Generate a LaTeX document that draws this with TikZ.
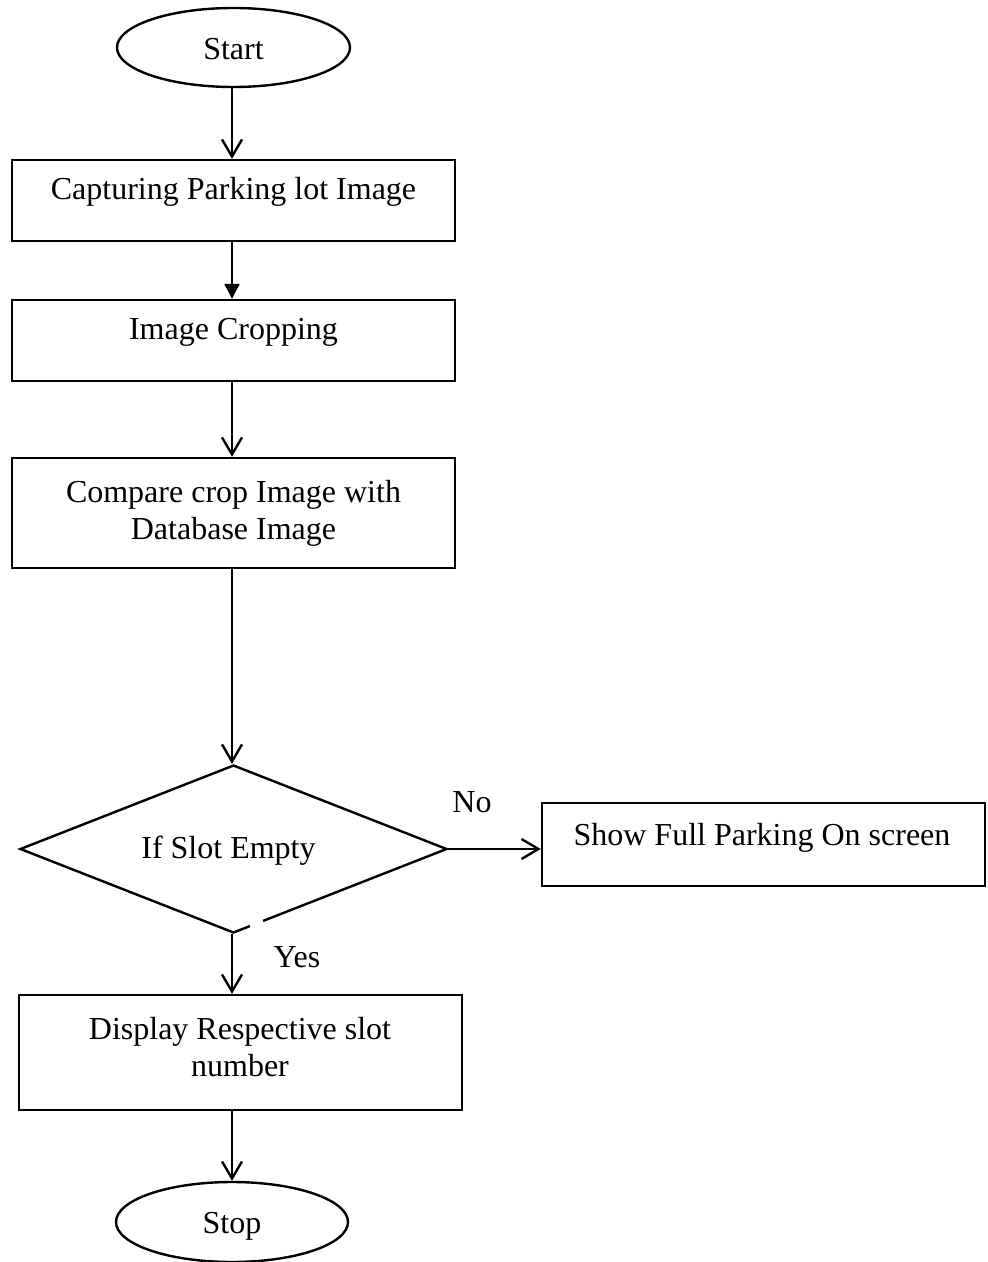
\documentclass[tikz,border=0pt]{standalone}
\usepackage{fontspec}
\setmainfont{Liberation Serif}
\usetikzlibrary{arrows.meta,shapes.geometric}
\begin{document}
\begin{tikzpicture}[x=0.5pt,y=-0.5pt, line width=1.2pt,
  box/.style={draw, rectangle, inner sep=0pt, minimum width=221.5pt},
  term/.style={draw, ellipse, inner sep=0pt},
  dec/.style={draw, diamond, inner sep=0pt},
  txt/.style={font=\fontsize{16}{18.5}\selectfont, inner sep=0pt, align=center},
  arr/.style={-{Straight Barb[length=8.5pt,width=10pt]}},
  arrf/.style={-{Triangle[length=7.5pt,width=7.5pt]}}]
\useasboundingbox (0,0) rectangle (987,1262);
% shapes
\node[term, minimum width=116.5pt, minimum height=39.5pt] (start) at (233.5,47.5) {};
\node[box, minimum height=40.5pt] (b1) at (233.5,200.5) {};
\node[box, minimum height=40.5pt] (b2) at (233.5,340.5) {};
\node[box, minimum height=55pt] (b3) at (233.5,513) {};
\node[dec, minimum width=213.5pt, minimum height=84pt] (dia) at (233.5,849) {};
\node[box, minimum height=41.5pt] (b4) at (763.5,844.5) {};
\node[box, minimum height=57.5pt] (b5) at (240.5,1052.5) {};
\node[term, minimum width=116pt, minimum height=40pt] (stop) at (232,1222) {};
% small gap in the diamond outline
\draw[white, line width=1.8pt] (250,926) -- (263,921);
% texts
\node[txt, anchor=base] (tstart) at (233.5,60) {Start};
\node[txt, anchor=base] (t1) at (233.5,200) {Capturing Parking lot Image};
\node[txt, anchor=base] (t2) at (233.5,340) {Image Cropping};
\node[txt] (t3) at (233.5,513) {Compare crop Image with\\Database Image};
\node[txt, anchor=base] (tdia) at (228.5,858) {If Slot Empty};
\node[txt, anchor=base] (t4) at (762,845) {Show Full Parking On screen};
\node[txt] (t5) at (240,1047) {Display Respective slot\\number};
\node[txt, anchor=base] (tstop) at (232,1233) {Stop};
\node[txt, anchor=base] (tno) at (472,812) {No};
\node[txt, anchor=base] (tyes) at (297,967) {Yes};
% connectors
\draw[arr] (start.south -| 232,0) -- (b1.north -| 232,0);
\draw[arrf] (b1.south -| 232,0) -- (b2.north -| 232,0);
\draw[arr] (b2.south -| 232,0) -- (b3.north -| 232,0);
\draw[arr] (b3.south -| 232,0) -- (dia.north -| 232,0);
\draw[arr] (dia.east) -- (dia.east -| b4.west);
\draw[arr] (dia.south -| 232,0) -- (b5.north -| 232,0);
\draw[arr] (b5.south -| 232,0) -- (stop.north -| 232,0);
\end{tikzpicture}
\end{document}
